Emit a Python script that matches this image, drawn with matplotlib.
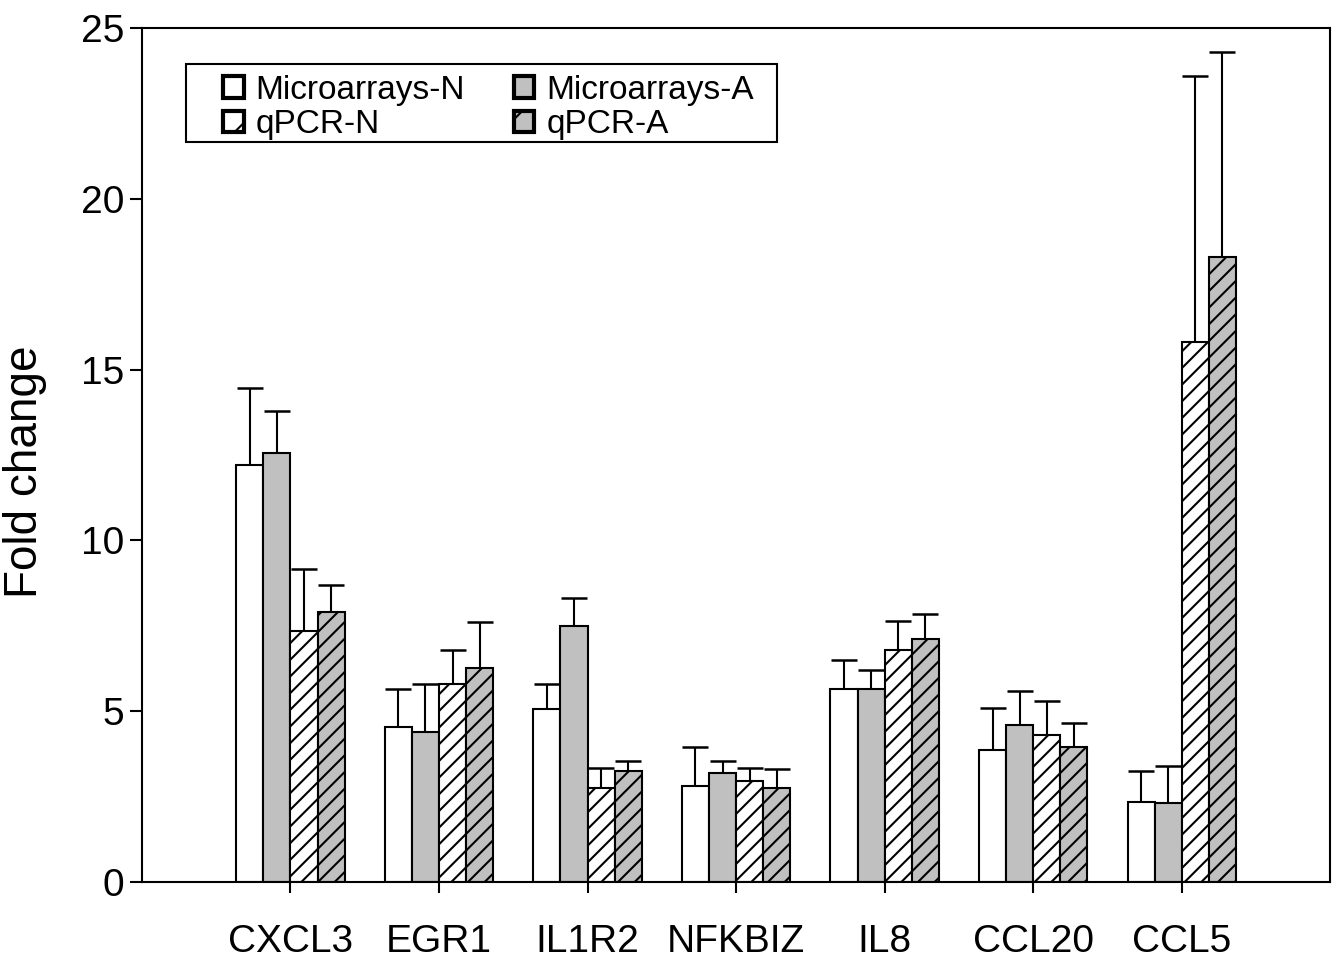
import numpy as np
import matplotlib
matplotlib.use("Agg")
import matplotlib.pyplot as plt
from matplotlib.patches import Rectangle, Patch

plt.rcParams["font.family"] = ["Liberation Sans", "DejaVu Sans"]
plt.rcParams["hatch.linewidth"] = 1.5
plt.rcParams["hatch.color"] = "black"

genes = ["CXCL3", "EGR1", "IL1R2", "NFKBIZ", "IL8", "CCL20", "CCL5"]

# valores medios
micro_n = [12.2, 4.55, 5.05, 2.8, 5.65, 3.85, 2.35]
micro_a = [12.55, 4.4, 7.5, 3.2, 5.65, 4.6, 2.3]
qpcr_n = [7.35, 5.8, 2.75, 2.95, 6.8, 4.3, 15.8]
qpcr_a = [7.9, 6.25, 3.25, 2.75, 7.1, 3.95, 18.3]

# extremo superior de la barra de error
micro_n_top = [14.45, 5.65, 5.8, 3.95, 6.5, 5.1, 3.25]
micro_a_top = [13.8, 5.8, 8.3, 3.55, 6.2, 5.6, 3.4]
qpcr_n_top = [9.15, 6.8, 3.35, 3.35, 7.65, 5.3, 23.6]
qpcr_a_top = [8.7, 7.6, 3.55, 3.3, 7.85, 4.65, 24.3]

labels = ["Microarrays-N", "Microarrays-A", "qPCR-N", "qPCR-A"]
series = [micro_n, micro_a, qpcr_n, qpcr_a]
tops = [micro_n_top, micro_a_top, qpcr_n_top, qpcr_a_top]
fills = ["white", "#c0c0c0", "white", "#c0c0c0"]
hatches = [None, None, "//", "//"]

fig = plt.figure(figsize=(13.38, 9.61), dpi=100)
ax = fig.add_axes([0.1061, 0.0822, 0.888, 0.8887])

x = np.arange(len(genes))
w = 0.182
offsets = [-1.5, -0.5, 0.5, 1.5]
for vals, top, fc, h, off, lab in zip(series, tops, fills, hatches, offsets, labels):
    vals = np.array(vals)
    err = np.array(top) - vals
    ax.bar(x + off * w, vals, w, color=fc, edgecolor="black", linewidth=1.5,
           hatch=h, label=lab, zorder=2)
    ax.errorbar(x + off * w, vals, yerr=[np.zeros_like(err), err], fmt="none",
                ecolor="black", elinewidth=1.5, capsize=9.5, capthick=1.8, zorder=1)

ax.set_xlim(-1, 7)
ax.set_ylim(0, 25)
ax.set_yticks([0, 5, 10, 15, 20, 25])
ax.set_xticks(x)
ax.set_xticklabels(genes)
ax.tick_params(axis="y", labelsize=28, length=9, width=1.5, pad=4)
ax.tick_params(axis="x", labelsize=28, length=8, width=1.5, pad=22)
for s in ax.spines.values():
    s.set_linewidth(1.5)

ax.set_ylabel("Fold change", fontsize=33)
ax.yaxis.set_label_coords(-0.08, 0.48)

# cuadro de la leyenda dibujado aparte
ax.add_patch(Rectangle((0.037, 0.8665), 0.4975, 0.0913, transform=ax.transAxes,
                       facecolor="white", edgecolor="black", linewidth=1.5, zorder=5))

# orden por columnas
handles = [
    Patch(facecolor="white", edgecolor="black", linewidth=3),
    Patch(facecolor="white", edgecolor="black", linewidth=3, hatch="/"),
    Patch(facecolor="#c0c0c0", edgecolor="black", linewidth=3),
    Patch(facecolor="#c0c0c0", edgecolor="black", linewidth=3, hatch="/"),
]
names = ["Microarrays-N", "qPCR-N", "Microarrays-A", "qPCR-A"]
leg = ax.legend(handles, names, ncol=2, loc="upper left",
                bbox_to_anchor=(0.0682, 0.945), fontsize=24, frameon=False,
                handlelength=0.62, handleheight=0.62, handletextpad=0.35,
                labelspacing=0.1, columnspacing=1.47, borderpad=0,
                borderaxespad=0)
leg.set_zorder(6)

fig.savefig("out.png", dpi=100)
